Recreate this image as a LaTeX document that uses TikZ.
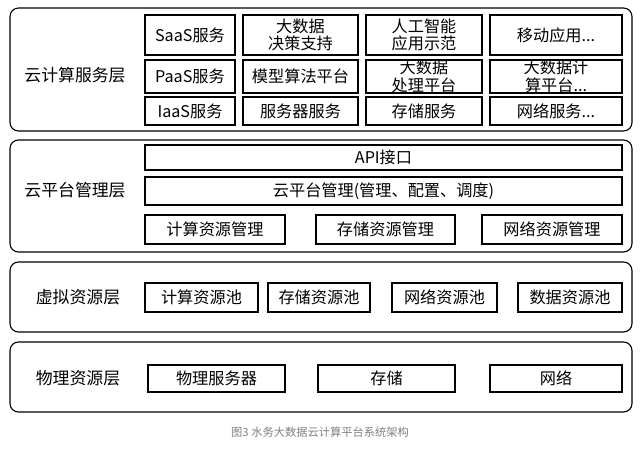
\documentclass[tikz,border=0pt]{standalone}
\usepackage{fontspec}
\setmainfont{Liberation Serif}
\newfontfamily\cjk{Noto Sans CJK SC}
\tikzset{
  layer/.style={draw, rounded corners=6pt, line width=0.8pt},
  cell/.style={draw, line width=0.8pt},
  txt/.style={font=\cjk\fontsize{11.5}{12.5}\selectfont, align=center, inner sep=0pt},
  lbl/.style={font=\cjk\fontsize{12}{13}\selectfont}
}
\begin{document}
\begin{tikzpicture}[x=0.025cm,y=-0.025cm]
  \useasboundingbox (0,0) rectangle (640,455);
  % layers
  \draw[layer] (10,8) rectangle (632,131);
  \draw[layer] (10,140) rectangle (632,252);
  \draw[layer] (10,262) rectangle (632,332);
  \draw[layer] (10,342) rectangle (632,412);
  \node[lbl] (svc) at (75,75) {云计算服务层};
  \node[lbl] (plat) at (75,190) {云平台管理层};
  \node[lbl] (virt) at (78,297) {虚拟资源层};
  \node[lbl] (phys) at (78,378) {物理资源层};

  % cloud service layer
  \draw[cell] (145,15) rectangle (235,55) node[txt,midway] (saas) {SaaS服务};
  \draw[cell] (243,15) rectangle (358,55) node[txt,midway] (bigdec) {大数据\\决策支持};
  \draw[cell] (366,15) rectangle (482,55) node[txt,midway] (ai) {人工智能\\应用示范};
  \draw[cell] (490,15) rectangle (622,55) node[txt,midway] (mobile) {移动应用...};
  \draw[cell] (145,60) rectangle (235,93) node[txt,midway] (paas) {PaaS服务};
  \draw[cell] (243,60) rectangle (358,93) node[txt,midway] (model) {模型算法平台};
  \draw[cell] (366,60) rectangle (482,93) node[txt,midway] (bigproc) {大数据\\处理平台};
  \draw[cell] (490,60) rectangle (622,93) node[txt,midway] (bigcalc) {大数据计\\算平台...};
  \draw[cell] (145,97) rectangle (235,125) node[txt,midway] (iaas) {IaaS服务};
  \draw[cell] (243,97) rectangle (358,125) node[txt,midway] (server) {服务器服务};
  \draw[cell] (366,97) rectangle (482,125) node[txt,midway] (store) {存储服务};
  \draw[cell] (490,97) rectangle (622,125) node[txt,midway] (net) {网络服务...};

  % platform layer
  \draw[cell] (145,145) rectangle (622,170) node[txt,midway] (api) {API接口};
  \draw[cell] (145,177) rectangle (622,205) node[txt,midway] (mgmt) {云平台管理(管理、配置、调度)};
  \draw[cell] (145,215) rectangle (285,244) node[txt,midway] (cmgr) {计算资源管理};
  \draw[cell] (316,215) rectangle (455,244) node[txt,midway] (smgr) {存储资源管理};
  \draw[cell] (482,215) rectangle (622,244) node[txt,midway] (nmgr) {网络资源管理};

  % virtual layer
  \draw[cell] (145,283) rectangle (258,312) node[txt,midway] (cpool) {计算资源池};
  \draw[cell] (268,283) rectangle (370,312) node[txt,midway] (spool) {存储资源池};
  \draw[cell] (392,283) rectangle (497,312) node[txt,midway] (npool) {网络资源池};
  \draw[cell] (518,283) rectangle (622,312) node[txt,midway] (dpool) {数据资源池};

  % physical layer
  \draw[cell] (148,365) rectangle (285,392) node[txt,midway] (psrv) {物理服务器};
  \draw[cell] (318,365) rectangle (455,392) node[txt,midway] (pstore) {存储};
  \draw[cell] (490,365) rectangle (622,392) node[txt,midway] (pnet) {网络};

  \node[font=\cjk\fontsize{8}{9}\selectfont, text=gray] (cap) at (320,432) {图3 水务大数据云计算平台系统架构};
\end{tikzpicture}
\end{document}
